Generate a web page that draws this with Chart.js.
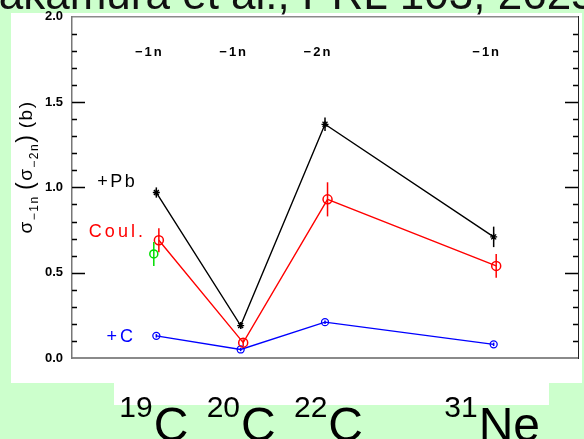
<!DOCTYPE html>
<html>
<head>
<meta charset="utf-8">
<script src="https://cdn.jsdelivr.net/npm/chart.js@4.4.1/dist/chart.umd.min.js"></script>
<style>
html, body { margin: 0; padding: 0; background: #ccffcc; }
#wrap { width: 584px; height: 439px; }
</style>
</head>
<body>
<div id="wrap"><canvas id="chart" width="584" height="439"></canvas></div>
<script>
// nuclei along the x axis
const massNumbers = ['19', '20', '22', '31'];
const symbols = ['C', 'C', 'C', 'Ne'];
const xValues = [1, 2, 3, 5];
const removalLabels = ['\u22121n', '\u22121n', '\u22122n', '\u22121n'];

// cross sections (b)
const pbValues = [0.97, 0.19, 1.37, 0.71];
const pbErrors = [0.03, 0.02, 0.04, 0.06];
const coulValues = [0.69, 0.09, 0.93, 0.54];
const coulErrors = [0.07, 0.02, 0.10, 0.07];
const cValues = [0.13, 0.05, 0.21, 0.08];
const cErrors = [0.01, 0.01, 0.01, 0.01];
const earlierX = [0.97];
const earlierValues = [0.61];
const earlierErrors = [0.07];

const yMin = 0, yMax = 2.0, yStep = 0.5, yMinorStep = 0.1;
const titleText = 'Nakamura et al., PRL 103, 262501 (2009)';

const FONT = '"Liberation Sans", Arial, Helvetica, sans-serif';
const coulShift = 0.03;

function points(xs, ys) {
    return ys.map((y, i) => ({ x: xs[i], y: y }));
}

const backgroundPlugin = {
    id: 'panel',
    beforeDraw(chart) {
        const ctx = chart.ctx;
        ctx.save();
        ctx.fillStyle = '#ccffcc';
        ctx.fillRect(0, 0, chart.width, chart.height);
        ctx.fillStyle = '#ffffff';
        ctx.fillRect(11, 13, 571, 370);
        ctx.fillRect(114, 383, 435, 22);
        ctx.restore();
    }
};

const errorBarPlugin = {
    id: 'errorBars',
    afterDatasetsDraw(chart) {
        const ctx = chart.ctx;
        const x = chart.scales.x, y = chart.scales.y;
        ctx.save();
        chart.data.datasets.forEach(ds => {
            if (!ds.errors) return;
            ctx.strokeStyle = ds.borderColor;
            ctx.lineWidth = 1.5;
            ds.data.forEach((p, i) => {
                const px = x.getPixelForValue(p.x);
                ctx.beginPath();
                ctx.moveTo(px, y.getPixelForValue(p.y - ds.errors[i]));
                ctx.lineTo(px, y.getPixelForValue(p.y + ds.errors[i]));
                ctx.stroke();
            });
        });
        ctx.restore();
    }
};

function spacedText(ctx, text, x, y, spacing) {
    ctx.letterSpacing = spacing + 'px';
    ctx.fillText(text, x, y);
    ctx.letterSpacing = '0px';
}

const decorPlugin = {
    id: 'decor',
    afterDraw(chart) {
        const ctx = chart.ctx;
        const xs = chart.scales.x, ys = chart.scales.y;
        const area = chart.chartArea;
        ctx.save();

        // inward ticks on both vertical sides
        ctx.strokeStyle = '#000';
        ctx.lineWidth = 1.5;
        const nMinor = Math.round((yMax - yMin) / yMinorStep);
        for (let i = 1; i < nMinor; i++) {
            const v = yMin + i * yMinorStep;
            const py = Math.round(ys.getPixelForValue(v)) + 0.5;
            const major = Math.abs(v / yStep - Math.round(v / yStep)) < 1e-6;
            const len = major ? 13 : 5;
            ctx.beginPath();
            ctx.moveTo(area.left, py); ctx.lineTo(area.left + len, py);
            ctx.moveTo(area.right, py); ctx.lineTo(area.right - len, py);
            ctx.stroke();
        }

        // title, cut by the top edge
        ctx.fillStyle = '#111';
        ctx.font = '44px ' + FONT;
        ctx.textBaseline = 'alphabetic';
        ctx.textAlign = 'left';
        ctx.fillText(titleText, -33, 9);

        // removal channel labels
        ctx.font = 'bold 13px ' + FONT;
        ctx.fillStyle = '#000';
        ctx.textAlign = 'center';
        ctx.textBaseline = 'middle';
        removalLabels.forEach((t, i) => {
            spacedText(ctx, t, xs.getPixelForValue(xValues[i]) - 7, ys.getPixelForValue(1.79), 2);
        });

        // series labels
        ctx.textAlign = 'left';
        ctx.font = '18px ' + FONT;
        ctx.fillStyle = '#000';
        spacedText(ctx, '+Pb', xs.getPixelForValue(0.3), ys.getPixelForValue(1.03), 2.5);
        ctx.fillStyle = '#ff0000';
        spacedText(ctx, 'Coul.', xs.getPixelForValue(0.2), ys.getPixelForValue(0.74), 3);
        ctx.fillStyle = '#0000ff';
        spacedText(ctx, '+C', xs.getPixelForValue(0.41), ys.getPixelForValue(0.12), 3);

        // nucleus names under the frame
        ctx.fillStyle = '#000';
        ctx.textBaseline = 'alphabetic';
        const nudge = [-3, 0, 3, -2];
        massNumbers.forEach((m, i) => {
            ctx.font = '30px ' + FONT;
            const wm = ctx.measureText(m).width;
            ctx.font = '48px ' + FONT;
            const ws = ctx.measureText(symbols[i]).width;
            const left = xs.getPixelForValue(xValues[i]) - (wm + ws) / 2 + nudge[i];
            ctx.font = '30px ' + FONT;
            ctx.fillText(m, left, 417);
            ctx.font = '48px ' + FONT;
            ctx.fillText(symbols[i], left + wm + 1, 441);
        });

        // y axis title, rotated
        ctx.translate(26, 167);
        ctx.rotate(-Math.PI / 2);
        const parts = [
            { t: '\u03c3', f: 19, dy: 0 },
            { t: '\u22121n', f: 12, dy: 6 },
            { t: ' ', f: 14, dy: 0 },
            { t: '(', f: 23, dy: 1 },
            { t: '\u03c3', f: 19, dy: 0 },
            { t: '\u22122n', f: 12, dy: 6 },
            { t: ')', f: 23, dy: 1 },
            { t: ' ', f: 14, dy: 0 },
            { t: '(b)', f: 19, dy: 0 }
        ];
        let total = 0;
        parts.forEach(p => {
            ctx.font = p.f + 'px ' + FONT;
            ctx.letterSpacing = '1.5px';
            p.w = ctx.measureText(p.t).width;
            total += p.w;
        });
        let cx = -total / 2;
        ctx.textAlign = 'left';
        ctx.textBaseline = 'alphabetic';
        parts.forEach(p => {
            ctx.font = p.f + 'px ' + FONT;
            ctx.letterSpacing = '1.5px';
            ctx.fillText(p.t, cx, 6 + p.dy);
            cx += p.w;
        });
        ctx.restore();
    }
};

new Chart(document.getElementById('chart'), {
    type: 'scatter',
    data: {
        datasets: [
            {
                label: '+Pb',
                data: points(xValues, pbValues),
                errors: pbErrors,
                showLine: true,
                borderColor: '#000000',
                backgroundColor: '#000000',
                borderWidth: 1.4,
                pointStyle: 'star',
                pointRadius: 3.5,
                pointBorderWidth: 1.3
            },
            {
                label: 'Coul.',
                data: points(xValues.map(v => v + coulShift), coulValues),
                errors: coulErrors,
                showLine: true,
                borderColor: '#ff0000',
                backgroundColor: 'rgba(0,0,0,0)',
                borderWidth: 1.4,
                pointStyle: 'circle',
                pointRadius: 4.5,
                pointBorderWidth: 1.5
            },
            {
                label: '+C',
                data: points(xValues, cValues),
                errors: cErrors,
                showLine: true,
                borderColor: '#0000ff',
                backgroundColor: 'rgba(0,0,0,0)',
                borderWidth: 1.4,
                pointStyle: 'circle',
                pointRadius: 3.5,
                pointBorderWidth: 1.3
            },
            {
                label: 'earlier',
                data: points(earlierX, earlierValues),
                errors: earlierErrors,
                showLine: false,
                borderColor: '#00dd00',
                backgroundColor: 'rgba(0,0,0,0)',
                pointStyle: 'circle',
                pointRadius: 4,
                pointBorderWidth: 1.5
            }
        ]
    },
    options: {
        responsive: false,
        animation: false,
        devicePixelRatio: 1,
        layout: { padding: { left: 0, right: 3, top: 16, bottom: 81 } },
        plugins: {
            legend: { display: false },
            tooltip: { enabled: false }
        },
        scales: {
            x: {
                type: 'linear',
                min: 0,
                max: 6,
                ticks: { display: false },
                grid: { display: false, drawTicks: false },
                border: { display: true, color: '#8a8a8a', width: 2 },
                afterFit: s => { s.height = 0; }
            },
            xTop: {
                type: 'linear',
                position: 'top',
                min: 0,
                max: 6,
                ticks: { display: false },
                grid: { display: false, drawTicks: false },
                border: { display: true, color: '#8a8a8a', width: 1.5 },
                afterFit: s => { s.height = 0; }
            },
            y: {
                min: yMin,
                max: yMax,
                ticks: {
                    stepSize: yStep,
                    padding: 9,
                    color: '#000',
                    font: { family: FONT, size: 13, weight: 'bold' },
                    callback: v => v.toFixed(1)
                },
                grid: { display: false, drawTicks: false },
                border: { display: true, color: '#777777', width: 1.5 },
                afterFit: s => { s.width = 72; }
            },
            yRight: {
                position: 'right',
                min: yMin,
                max: yMax,
                ticks: { display: false },
                grid: { display: false, drawTicks: false },
                border: { display: true, color: '#222222', width: 1 },
                afterFit: s => { s.width = 0; }
            }
        }
    },
    plugins: [backgroundPlugin, errorBarPlugin, decorPlugin]
});
</script>
</body>
</html>
